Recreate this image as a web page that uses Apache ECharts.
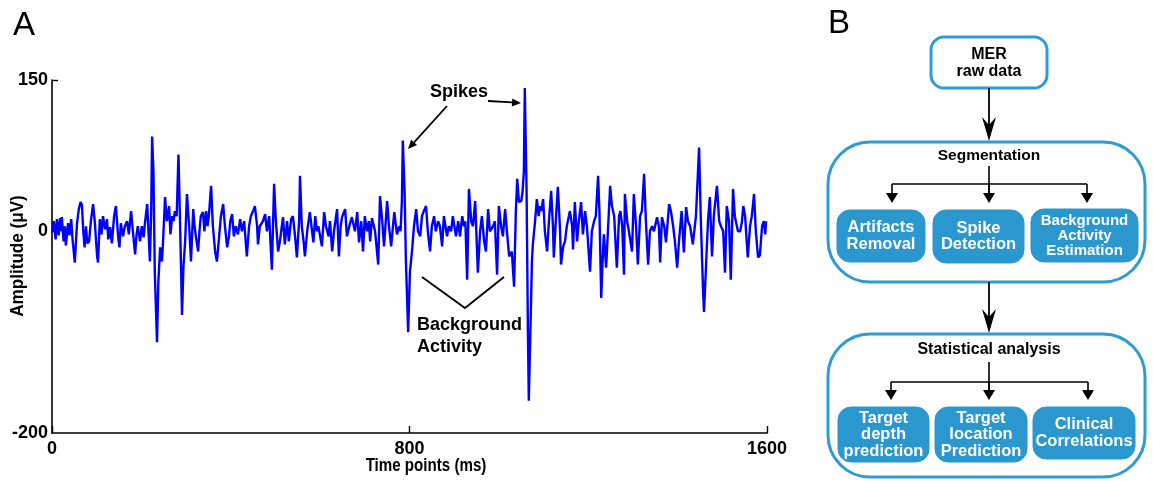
<!DOCTYPE html>
<html>
<head>
<meta charset="utf-8">
<script src="https://cdn.jsdelivr.net/npm/echarts@6/dist/echarts.min.js"></script>
<style>
html,body{margin:0;padding:0;background:#fff;}
#chart{width:1153px;height:481px;}
</style>
</head>
<body>
<div id="chart"></div>
<script>
// ---- Data (time in ms, amplitude in microvolts) ----
const timePoints = [
0,4,8,11,15,18,20,22,26,29,31,36,39,43,46,51,56,60,64,67,70,73,76,79,83,87,92,96,101,103,
107,111,114,119,123,126,130,134,139,143,148,151,154,159,163,168,172,177,181,186,189,192,197,201,205,208,213,217,219,222,
224,227,230,235,238,242,246,248,253,257,262,265,269,272,275,279,283,286,291,294,298,302,307,311,316,319,322,327,330,333,
338,341,345,348,351,356,360,365,369,374,378,383,387,392,396,399,403,407,411,416,421,425,430,436,441,445,450,454,459,461,
465,472,477,481,486,492,497,501,506,510,517,521,526,530,535,539,544,548,553,555,559,563,566,571,577,582,585,589,593,596,
600,604,609,613,619,622,627,631,638,642,646,649,656,660,667,671,678,683,687,692,696,700,705,709,712,716,723,730,734,739,
743,750,754,759,763,766,772,777,780,783,785,789,792,797,801,806,810,815,819,824,828,832,837,841,846,850,855,859,864,868,
873,877,884,888,893,897,904,909,913,918,922,925,929,933,938,942,947,953,958,962,967,971,976,980,987,991,996,1000,1005,1009,
1014,1018,1023,1029,1034,1038,1041,1045,1050,1053,1056,1058,1062,1065,1067,1071,1074,1076,1081,1085,1089,1092,1095,1099,1103,1108,1112,1117,1121,1123,
1128,1132,1137,1139,1144,1148,1152,1159,1164,1166,1170,1175,1179,1184,1188,1193,1197,1204,1208,1213,1217,1222,1225,1229,1233,1235,1240,1244,1249,1253,
1258,1264,1269,1272,1276,1280,1282,1287,1291,1298,1302,1307,1311,1316,1320,1325,1329,1334,1338,1343,1347,1354,1358,1361,1365,1370,1374,1381,1385,1390,
1394,1399,1403,1409,1414,1419,1423,1428,1434,1441,1448,1452,1457,1459,1464,1468,1472,1477,1481,1488,1493,1497,1502,1506,1510,1515,1519,1524,1528,1535,
1540,1544,1547,1551,1557,1562,1566,1571,1575,1580,1584,1589,1593,1596,1598
];
const amplitude = [
0,10,-8,12,-4,13,0,14,-10,5,-14,8,-4,12,-8,-31,8,22,29,26,0,-16,5,-12,-10,10,27,8,-25,-31,
12,-3,15,2,12,-8,4,-12,15,25,-5,-16,8,-5,5,10,-3,20,0,-23,-4,5,-10,5,-6,8,27,-10,-30,20,
94,60,-40,-110,-50,-16,-30,-15,34,10,25,-3,15,10,20,15,76,20,-83,-36,-10,37,5,-30,22,5,-5,-20,0,15,
19,0,20,5,15,45,5,-20,-30,-5,15,27,5,-16,-5,10,17,-5,5,-3,12,0,10,-25,5,15,20,25,5,-13,
5,10,17,0,15,-38,47,10,-20,-10,14,-13,10,-10,12,15,-5,-26,10,55,5,-10,-25,0,19,0,-11,15,0,5,
-5,-15,19,5,-5,10,-20,0,22,-25,5,14,22,-5,8,14,0,19,-11,10,-20,15,0,10,-10,13,0,-33,35,10,
-15,30,5,-15,5,19,-3,5,0,30,90,40,-30,-100,-40,-18,5,22,0,-5,15,20,25,0,-20,5,15,0,10,5,
-15,15,-5,5,0,15,-5,10,-5,15,5,10,-48,42,10,5,30,-41,0,15,-10,-20,22,0,5,10,-43,25,5,-5,
22,0,-25,-20,-55,20,52,29,30,39,60,142,40,-100,-168,-90,-30,-13,10,32,15,25,20,32,0,-20,10,40,5,-26,
15,44,0,-33,-15,-10,5,20,5,-18,29,-10,10,29,-3,20,5,-40,0,10,15,55,20,-66,-20,-3,-36,0,45,25,
15,-36,15,20,5,-43,37,10,0,-20,37,5,-33,15,20,57,10,-33,0,5,0,14,5,-31,14,5,-11,27,20,5,
-10,-36,-10,20,-21,24,10,5,-13,15,83,10,-60,-80,-30,10,34,-25,15,45,10,5,0,-41,25,10,-48,42,15,0,
0,10,25,15,-26,5,15,37,0,-26,-24,5,10,-3,10
];
const xTicks = [0, 800, 1600];
const yTickLabels = [-200, 0, 150];
const yTickMarks = [150, 0];
const xTitle = 'Time points (ms)';
const yTitle = 'Amplitude (μV)';

const signal = timePoints.map((t, i) => [t, amplitude[i]]);

// ---- Flowchart text (panel B) ----
const topBoxText = ['MER', 'raw data'];
const stage1Title = 'Segmentation';
const stage1Items = [['Artifacts', 'Removal'], ['Spike', 'Detection'], ['Background', 'Activity', 'Estimation']];
const stage2Title = 'Statistical analysis';
const stage2Items = [['Target', 'depth', 'prediction'], ['Target', 'location', 'Prediction'], ['Clinical', 'Correlations']];

const FONT = "'Liberation Sans', Arial, sans-serif";
const BLUE_LINE = '#2f9bd6';
const BLUE_FILL = '#2a97cf';

function txt(x, y, text, size, color, weight, align) {
  return { type: 'text', x: x, y: y, style: { text: text, font: (weight || 'bold') + ' ' + size + 'px ' + FONT, fill: color || '#000', align: align || 'center', verticalAlign: 'middle' } };
}
function multiline(cx, cy, lines, size, lh, color) {
  const out = [];
  const y0 = cy - (lines.length - 1) * lh / 2;
  lines.forEach((l, i) => out.push(txt(cx, y0 + i * lh, l, size, color)));
  return out;
}
function seg(x1, y1, x2, y2, w) {
  return { type: 'line', shape: { x1: x1, y1: y1, x2: x2, y2: y2 }, style: { stroke: '#000', lineWidth: w || 1.6 } };
}
function tri(x, yTip, w, h) {
  return { type: 'polygon', shape: { points: [[x, yTip], [x - w / 2, yTip - h], [x + w / 2, yTip - h]] }, style: { fill: '#000' } };
}
function notchArrow(x, yTip) {
  return { type: 'polygon', shape: { points: [[x, yTip], [x - 7, yTip - 24], [x, yTip - 16], [x + 7, yTip - 24]] }, style: { fill: '#000' } };
}
function arrowLine(x1, y1, x2, y2) {
  const dx = x2 - x1, dy = y2 - y1, L = Math.hypot(dx, dy);
  const ux = dx / L, uy = dy / L, px = -uy, py = ux;
  const hl = 9, hw = 4;
  const bx = x2 - ux * hl, by = y2 - uy * hl;
  return [
    seg(x1, y1, bx, by, 1.8),
    { type: 'polygon', shape: { points: [[x2, y2], [bx + px * hw, by + py * hw], [bx - px * hw, by - py * hw]] }, style: { fill: '#000' } }
  ];
}
function roundBox(x, y, w, h, r, filled) {
  return { type: 'rect', shape: { x: x, y: y, width: w, height: h, r: r },
    style: filled ? { fill: BLUE_FILL, stroke: BLUE_FILL, lineWidth: 1 } : { fill: '#fff', stroke: BLUE_LINE, lineWidth: 3 } };
}

const g = [];
// Panel labels
g.push(txt(24, 26, 'A', 33, '#000', 'normal'));
g.push(txt(839, 24, 'B', 33, '#000', 'normal'));

// Axis titles (condensed bold, like the original)
g.push({ type: 'text', x: 426, y: 466, scaleX: 0.84, style: { text: xTitle, font: 'bold 18px ' + FONT, fill: '#000', align: 'center', verticalAlign: 'middle' } });
g.push({ type: 'text', x: 18, y: 256, rotation: Math.PI / 2, scaleX: 0.95, style: { text: yTitle, font: 'bold 18px ' + FONT, fill: '#000', align: 'center', verticalAlign: 'middle' } });

// Annotations in panel A
g.push(txt(459, 92, 'Spikes', 18));
g.push(...arrowLine(447, 106, 408, 149));
g.push(...arrowLine(488, 101, 521, 103));
g.push({ type: 'polyline', shape: { points: [[422, 277], [465, 308], [504, 277]] }, style: { stroke: '#000', lineWidth: 1.8, fill: null } });
g.push(txt(417, 325, 'Background', 18, '#000', 'bold', 'left'));
g.push(txt(417, 347, 'Activity', 18, '#000', 'bold', 'left'));

// Panel B flowchart
g.push(roundBox(931, 37, 116, 51, 13, false));
g.push(...multiline(989, 63, topBoxText, 16, 16.5));
g.push(seg(989, 88, 989, 128, 1.8));
g.push(notchArrow(989, 141));

g.push(roundBox(828, 142, 317, 140, 42, false));
g.push(txt(989, 156, stage1Title, 15.5));
g.push(seg(989, 166, 989, 194));
g.push(seg(892, 184, 1087, 184));
[892, 989, 1087].forEach(x => { g.push(seg(x, 184, x, 194)); g.push(tri(x, 203, 12, 10)); });
const s1 = [[837, 210, 88, 52], [933, 210, 91, 53], [1031, 209, 107, 53]];
s1.forEach((b, i) => {
  g.push(roundBox(b[0], b[1], b[2], b[3], 13, true));
  const n = stage1Items[i].length;
  g.push(...multiline(b[0] + b[2] / 2, b[1] + b[3] / 2, stage1Items[i], n > 2 ? 15 : 16.5, n > 2 ? 15 : 16.5, '#fff'));
});

g.push(seg(989, 282, 989, 320, 1.8));
g.push(notchArrow(989, 333));

g.push(roundBox(828, 334, 317, 143, 42, false));
g.push(txt(989, 350, stage2Title, 16));
g.push(seg(989, 362, 989, 390));
g.push(seg(891, 382, 1088, 382));
[891, 989, 1088].forEach(x => { g.push(seg(x, 382, x, 391)); g.push(tri(x, 400, 12, 10)); });
const s2 = [[838, 407, 91, 55], [935, 407, 92, 55], [1033, 407, 102, 52]];
s2.forEach((b, i) => {
  g.push(roundBox(b[0], b[1], b[2], b[3], 13, true));
  g.push(...multiline(b[0] + b[2] / 2, b[1] + b[3] / 2, stage2Items[i], 16.5, 16.5, '#fff'));
});

const chart = echarts.init(document.getElementById('chart'), null, { renderer: 'canvas' });
chart.setOption({
  animation: false,
  backgroundColor: '#fff',
  grid: { left: 52, right: 386, top: 80, bottom: 48, containLabel: false, outerBoundsMode: 'none' },
  xAxis: {
    type: 'value', min: 0, max: 1600, interval: 800,
    axisLine: { onZero: false, lineStyle: { color: '#000', width: 1.6 } },
    axisTick: { inside: true, length: 7, lineStyle: { color: '#000', width: 1.4 }, customValues: xTicks },
    axisLabel: { margin: 7, fontFamily: FONT, fontWeight: 'bold', fontSize: 18, color: '#000', customValues: xTicks, formatter: v => String(v) },
    splitLine: { show: false }
  },
  yAxis: {
    type: 'value', min: -200, max: 150, interval: 50,
    axisLine: { show: true, lineStyle: { color: '#000', width: 1.6 } },
    axisTick: { show: true, inside: true, length: 6, lineStyle: { color: '#000', width: 1.4 }, customValues: yTickMarks },
    axisLabel: { margin: 4, fontFamily: FONT, fontWeight: 'bold', fontSize: 18, color: '#000', customValues: yTickLabels, formatter: v => String(v) },
    splitLine: { show: false }
  },
  series: [{
    type: 'line', data: signal, showSymbol: false, symbol: 'none',
    lineStyle: { color: '#0000ff', width: 2.4 }, clip: true
  }],
  graphic: g
});
</script>
</body>
</html>
